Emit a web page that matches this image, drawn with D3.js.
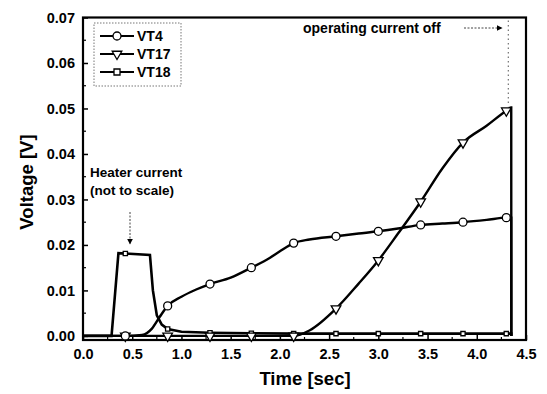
<!DOCTYPE html>
<html>
<head>
<meta charset="utf-8">
<script src="https://cdn.jsdelivr.net/npm/d3@7"></script>
<style>
  html, body { margin: 0; padding: 0; background: #fff; }
  svg { display: block; }
  text { font-family: "Liberation Sans", Arial, sans-serif; }
</style>
</head>
<body>
<svg id="chart" width="547" height="394"></svg>
<script>
// ---- data ----
const xTicks = [0.0, 0.5, 1.0, 1.5, 2.0, 2.5, 3.0, 3.5, 4.0, 4.5];
const yTicks = [0.00, 0.01, 0.02, 0.03, 0.04, 0.05, 0.06, 0.07];
const seriesNames = ["VT4", "VT17", "VT18"];

const vt4T = [0, 0.43, 0.6, 0.7, 0.78, 0.86, 1.0, 1.15, 1.29, 1.5, 1.71, 1.9, 2.0, 2.14, 2.3, 2.57, 2.8, 3.0, 3.2, 3.43, 3.65, 3.86, 4.1, 4.3, 4.35, 4.351];
const vt4V = [0, 0, 0.0002, 0.0016, 0.0042, 0.0066, 0.0086, 0.0102, 0.0114, 0.0128, 0.015, 0.0172, 0.0186, 0.0204, 0.0212, 0.0219, 0.0225, 0.0230, 0.0236, 0.0244, 0.0247, 0.0250, 0.0255, 0.0260, 0.0260, 0];

const vt17T = [0, 2.14, 2.3, 2.57, 2.8, 3.0, 3.2, 3.43, 3.65, 3.86, 4.1, 4.3, 4.35, 4.351];
const vt17V = [0, 0, 0.0012, 0.0060, 0.0115, 0.0166, 0.0225, 0.0295, 0.0368, 0.0425, 0.0462, 0.0495, 0.0502, 0];

const vt18T = [0, 0.29, 0.36, 0.43, 0.68, 0.71, 0.75, 0.80, 0.86, 1.0, 1.29, 1.71, 2.14, 2.57, 3.0, 3.43, 3.86, 4.3, 4.35, 4.351];
const vt18V = [0, 0, 0.0182, 0.0181, 0.0178, 0.0100, 0.0045, 0.0025, 0.0015, 0.0009, 0.0007, 0.0006, 0.0005, 0.0005, 0.0005, 0.0005, 0.0005, 0.0005, 0.0005, 0];

const markerT = [0.43, 0.86, 1.29, 1.71, 2.14, 2.57, 3.0, 3.43, 3.86, 4.3];
const vt4M  = [0, 0.0066, 0.0114, 0.015, 0.0204, 0.0219, 0.0230, 0.0244, 0.0250, 0.0260];
const vt17M = [0, 0, 0, 0, 0, 0.0060, 0.0166, 0.0295, 0.0425, 0.0495];
const vt18M = [0.0181, 0.0015, 0.0007, 0.0006, 0.0005, 0.0005, 0.0005, 0.0005, 0.0005, 0.0005];

// ---- layout ----
const svg = d3.select("#chart");
const x = d3.scaleLinear().domain([0, 4.5]).range([83, 526]);
const y = d3.scaleLinear().domain([-0.0009, 0.07]).range([340, 17.5]);
const L = 83, R = 526, T = 17.5, B = 340;

// axes (ticks inward)
const xAxis = d3.axisBottom(x).tickValues(xTicks).tickFormat(d3.format(".1f")).tickSizeInner(-5).tickSizeOuter(0).tickPadding(9);
const yAxis = d3.axisLeft(y).tickValues(yTicks).tickFormat(d3.format(".2f")).tickSizeInner(-5).tickSizeOuter(0).tickPadding(8);

const gx = svg.append("g").attr("transform", `translate(0,${B})`).call(xAxis);
const gy = svg.append("g").attr("transform", `translate(${L},0)`).call(yAxis);
[gx, gy].forEach(g => {
  g.select(".domain").remove();
  g.selectAll(".tick line").attr("stroke", "#000").attr("stroke-width", 1.5);
  g.selectAll(".tick text").attr("fill", "#000").attr("font-size", 14.5).attr("font-weight", "bold")
    .attr("font-family", "'Liberation Sans', Arial, sans-serif");
});
// minor ticks
const yMinor = d3.range(0.005, 0.07, 0.01);
svg.append("g").selectAll("line").data(yMinor).join("line")
  .attr("x1", L).attr("x2", L + 3).attr("y1", d => y(d)).attr("y2", d => y(d))
  .attr("stroke", "#000").attr("stroke-width", 1.2);
const xMinor = d3.range(0.25, 4.5, 0.5);
svg.append("g").selectAll("line").data(xMinor).join("line")
  .attr("x1", d => x(d)).attr("x2", d => x(d)).attr("y1", B).attr("y2", B - 3)
  .attr("stroke", "#000").attr("stroke-width", 1.2);

// frame
svg.append("rect").attr("x", L).attr("y", T).attr("width", R - L).attr("height", B - T)
  .attr("fill", "none").attr("stroke", "#000").attr("stroke-width", 2.2);

// dotted vertical line (operating current off)
svg.append("line").attr("x1", x(4.32)).attr("x2", x(4.32)).attr("y1", T + 3).attr("y2", y(0.0505))
  .attr("stroke", "#555").attr("stroke-width", 1).attr("stroke-dasharray", "1.5,3");

// lines
const smooth = d3.line().x(d => x(d[0])).y(d => y(d[1])).curve(d3.curveMonotoneX);
const straight = d3.line().x(d => x(d[0])).y(d => y(d[1]));
svg.append("path").datum(d3.zip(vt18T, vt18V)).attr("d", straight)
  .attr("fill", "none").attr("stroke", "#000").attr("stroke-width", 2.6);
svg.append("path").datum(d3.zip(vt4T, vt4V)).attr("d", smooth)
  .attr("fill", "none").attr("stroke", "#000").attr("stroke-width", 2.4);
svg.append("path").datum(d3.zip(vt17T, vt17V)).attr("d", smooth)
  .attr("fill", "none").attr("stroke", "#000").attr("stroke-width", 2.4);

// markers
const circleSym = d3.symbol().type(d3.symbolCircle).size(50);
const triSym = d3.symbol().type(d3.symbolTriangle).size(40);
const sqSym = d3.symbol().type(d3.symbolSquare).size(18);
function drawMarkers(vals, sym, rot) {
  svg.append("g").selectAll("path").data(d3.zip(markerT, vals)).join("path")
    .attr("d", sym)
    .attr("transform", d => `translate(${x(d[0])},${y(d[1])})${rot ? " rotate(180)" : ""}`)
    .attr("fill", "#fff").attr("stroke", "#000").attr("stroke-width", 1.3);
}
drawMarkers(vt18M, sqSym, false);
drawMarkers(vt17M, triSym, true);
drawMarkers(vt4M, circleSym, false);

// legend
const lg = svg.append("g");
lg.append("rect").attr("x", 94).attr("y", 23).attr("width", 87).attr("height", 63)
  .attr("fill", "#fff").attr("stroke", "#777").attr("stroke-width", 1).attr("stroke-dasharray", "1.5,1.5");
const legendSyms = [[circleSym, false], [triSym, true], [d3.symbol().type(d3.symbolSquare).size(36), false]];
const legendY = [36, 54, 72];
seriesNames.forEach((name, i) => {
  const yy = legendY[i];
  lg.append("line").attr("x1", 100).attr("x2", 134).attr("y1", yy).attr("y2", yy)
    .attr("stroke", "#000").attr("stroke-width", 2);
  lg.append("path").attr("d", legendSyms[i][0]())
    .attr("transform", `translate(117,${yy})${legendSyms[i][1] ? " rotate(180)" : ""}`)
    .attr("fill", "#fff").attr("stroke", "#000").attr("stroke-width", 1.3);
  lg.append("text").attr("x", 137).attr("y", yy + 5).attr("font-size", 14).attr("font-weight", "bold")
    .attr("fill", "#000").text(name);
});

// annotations
svg.append("text").attr("x", 90).attr("y", 177).attr("font-size", 13.5).attr("font-weight", "bold").text("Heater current");
svg.append("text").attr("x", 90).attr("y", 195).attr("font-size", 13.5).attr("font-weight", "bold").text("(not to scale)");
svg.append("defs").append("marker").attr("id", "ah").attr("viewBox", "0 0 10 10").attr("refX", 9).attr("refY", 5)
  .attr("markerWidth", 6).attr("markerHeight", 6).attr("orient", "auto")
  .append("path").attr("d", "M0,0L10,5L0,10Z").attr("fill", "#000");
svg.append("line").attr("x1", 130).attr("x2", 130).attr("y1", 212).attr("y2", 244)
  .attr("stroke", "#444").attr("stroke-width", 1).attr("stroke-dasharray", "2,1.5").attr("marker-end", "url(#ah)");
svg.append("text").attr("x", 303).attr("y", 33).attr("font-size", 14).attr("font-weight", "bold").text("operating current off");
svg.append("line").attr("x1", 464).attr("x2", 502).attr("y1", 28).attr("y2", 28)
  .attr("stroke", "#444").attr("stroke-width", 1).attr("stroke-dasharray", "2,1.5").attr("marker-end", "url(#ah)");

// axis titles
svg.append("text").attr("x", 305).attr("y", 385).attr("text-anchor", "middle")
  .attr("font-size", 18.5).attr("font-weight", "bold").text("Time [sec]");
svg.append("text").attr("transform", "translate(33,182) rotate(-90)").attr("text-anchor", "middle")
  .attr("font-size", 18.5).attr("font-weight", "bold").text("Voltage [V]");
</script>
</body>
</html>
